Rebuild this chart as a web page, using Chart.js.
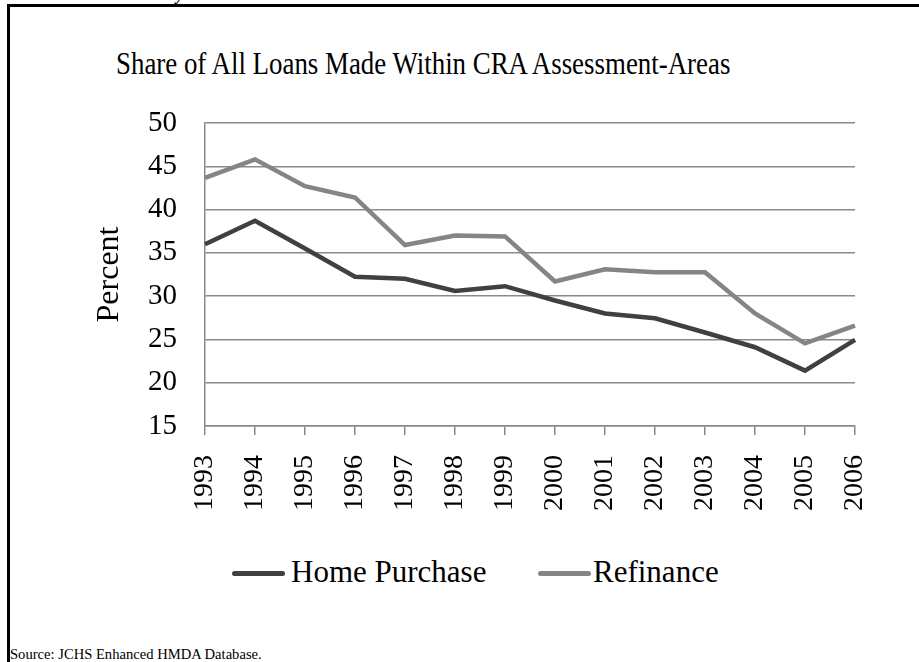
<!DOCTYPE html>
<html>
<head>
<meta charset="utf-8">
<script src="https://cdn.jsdelivr.net/npm/chart.js"></script>
<style>
body{
	margin: 0;
	background-color: #fff;
	font-family: "Liberation Serif", "Times New Roman", serif;
}
#page{ position: relative; width: 919px; height: 662px; overflow: hidden; }
#frame{ position: absolute; left: 7px; top: 4px; width: 1000px; height: 1000px; border-left: 3px solid #000; border-top: 3px solid #000; }
#cut{ position: absolute; left: 176px; top: -14px; font-size: 16px; font-weight: bold; font-style: italic; }
#title{ position: absolute; left: 116px; top: 47px; font-size: 32px; line-height: 32px; white-space: nowrap; transform-origin: left center; transform: scaleX(0.84); }
#chartbox{ position: absolute; left: 0; top: 0; width: 919px; height: 540px; }
.legline{ position: absolute; top: 571px; width: 53px; height: 5px; border-radius: 3px; }
.legtext{ position: absolute; top: 556px; font-size: 31px; line-height: 31px; white-space: nowrap; }
#source{ position: absolute; left: 10px; top: 647px; font-size: 14.6px; line-height: 15px; white-space: nowrap; }
</style>
</head>
<body>
<div id="page">
	<div id="frame"></div>
	<div id="cut">y</div>
	<div id="title">Share of All Loans Made Within CRA Assessment-Areas</div>
	<div id="chartbox"><canvas id="lineChart"></canvas></div>
	<div class="legline" style="left:232px; background:#404040;"></div>
	<div class="legtext" style="left:291px;">Home Purchase</div>
	<div class="legline" style="left:538px; background:#858585;"></div>
	<div class="legtext" style="left:593px;">Refinance</div>
	<div id="source">Source: JCHS Enhanced HMDA Database.</div>
</div>

<script>
    // data
    var years = ["1993", "1994", "1995", "1996", "1997", "1998", "1999", "2000", "2001", "2002", "2003", "2004", "2005", "2006"];
    var homePurchase = [36.0, 38.7, 35.5, 32.25, 32.0, 30.6, 31.15, 29.5, 28.0, 27.45, 25.8, 24.1, 21.4, 24.95];
    var refinance = [43.65, 45.8, 42.7, 41.4, 35.9, 37.0, 36.9, 31.7, 33.1, 32.75, 32.75, 28.0, 24.55, 26.6];
    var yMin = 15, yMax = 50, yStep = 5;

    var gridGray = "#8a8a8a";
    var serif = "'Liberation Serif', 'Times New Roman', serif";

    var line = new Chart(document.getElementById("lineChart"), {
        type: "line",
        data: {
            labels: years,
            datasets: [
                {
                    label: "Home Purchase",
                    data: homePurchase,
                    borderColor: "#404040",
                    borderWidth: 4.5,
                    pointRadius: 0,
                    tension: 0
                },
                {
                    label: "Refinance",
                    data: refinance,
                    borderColor: "#858585",
                    borderWidth: 4.5,
                    pointRadius: 0,
                    tension: 0
                }
            ]
        },
        options: {
            responsive: true,
            maintainAspectRatio: false,
            animation: false,
            layout: { padding: { left: 90, top: 123, right: 64, bottom: 14 } },
            plugins: {
                legend: { display: false },
                title: { display: false },
                tooltip: { enabled: false }
            },
            scales: {
                x: {
                    offset: false,
                    afterFit: function (scale) { scale.height = 100; },
                    grid: {
                        drawOnChartArea: false,
                        drawTicks: true,
                        tickLength: 9,
                        color: gridGray,
                        lineWidth: 1.5
                    },
                    border: { display: true, color: gridGray, width: 1.5 },
                    ticks: {
                        color: "#000",
                        font: { family: serif, size: 28 },
                        minRotation: 90,
                        maxRotation: 90,
                        padding: 20,
                        autoSkip: false
                    }
                },
                y: {
                    min: yMin,
                    max: yMax,
                    afterFit: function (scale) { scale.width = 115; },
                    grid: {
                        drawTicks: false,
                        color: gridGray,
                        lineWidth: 1.5
                    },
                    border: { display: true, color: gridGray, width: 1.5 },
                    ticks: {
                        stepSize: yStep,
                        color: "#000",
                        font: { family: serif, size: 29 },
                        padding: 28
                    },
                    title: {
                        display: true,
                        text: "Percent",
                        color: "#000",
                        font: { family: serif, size: 32 },
                        padding: 0
                    }
                }
            }
        }
    });
</script>
</body>
</html>
